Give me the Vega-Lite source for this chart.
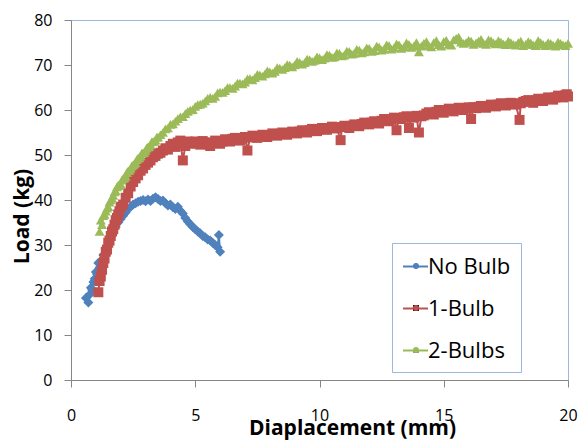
{
  "$schema": "https://vega.github.io/schema/vega-lite/v6.json",
  "width": 497,
  "height": 360,
  "autosize": {"type": "none"},
  "padding": {"left": 71, "top": 20, "right": 11, "bottom": 62},
  "background": "white",
  "config": {"view": {"stroke": "#9BB7DD", "strokeWidth": 1}, "font": "Open Sans"},
  "data": {"values": [
    {"s":"No Bulb","x":0.6,"y":18.2},{"s":"No Bulb","x":0.7,"y":17.2},{"s":"No Bulb","x":0.75,"y":19.0},{"s":"No Bulb","x":0.8,"y":20.5},{"s":"No Bulb","x":0.85,"y":20.0},{"s":"No Bulb","x":0.9,"y":21.8},{"s":"No Bulb","x":0.95,"y":22.5},{"s":"No Bulb","x":1.0,"y":24.0},{"s":"No Bulb","x":1.05,"y":23.5},{"s":"No Bulb","x":1.1,"y":26.0},{"s":"No Bulb","x":1.15,"y":25.0},{"s":"No Bulb","x":1.2,"y":26.5},{"s":"No Bulb","x":1.3,"y":27.8},{"s":"No Bulb","x":1.4,"y":29.0},{"s":"No Bulb","x":1.5,"y":30.5},{"s":"No Bulb","x":1.6,"y":31.8},{"s":"No Bulb","x":1.7,"y":33.0},{"s":"No Bulb","x":1.8,"y":34.0},{"s":"No Bulb","x":1.9,"y":35.0},{"s":"No Bulb","x":2.0,"y":35.8},{"s":"No Bulb","x":2.1,"y":36.5},{"s":"No Bulb","x":2.2,"y":37.2},{"s":"No Bulb","x":2.3,"y":38.0},{"s":"No Bulb","x":2.4,"y":38.5},{"s":"No Bulb","x":2.5,"y":39.0},{"s":"No Bulb","x":2.6,"y":39.3},{"s":"No Bulb","x":2.7,"y":39.6},{"s":"No Bulb","x":2.8,"y":39.8},{"s":"No Bulb","x":2.9,"y":40.0},{"s":"No Bulb","x":3.0,"y":39.7},{"s":"No Bulb","x":3.1,"y":40.1},{"s":"No Bulb","x":3.2,"y":39.8},{"s":"No Bulb","x":3.3,"y":40.3},{"s":"No Bulb","x":3.4,"y":40.6},{"s":"No Bulb","x":3.5,"y":40.2},{"s":"No Bulb","x":3.6,"y":39.8},{"s":"No Bulb","x":3.7,"y":39.9},{"s":"No Bulb","x":3.8,"y":39.3},{"s":"No Bulb","x":3.9,"y":38.8},{"s":"No Bulb","x":4.0,"y":39.0},{"s":"No Bulb","x":4.1,"y":38.4},{"s":"No Bulb","x":4.2,"y":38.0},{"s":"No Bulb","x":4.3,"y":38.5},{"s":"No Bulb","x":4.4,"y":37.6},{"s":"No Bulb","x":4.5,"y":37.0},{"s":"No Bulb","x":4.6,"y":36.0},{"s":"No Bulb","x":4.7,"y":35.2},{"s":"No Bulb","x":4.8,"y":34.6},{"s":"No Bulb","x":4.9,"y":34.0},{"s":"No Bulb","x":5.0,"y":33.5},{"s":"No Bulb","x":5.1,"y":33.0},{"s":"No Bulb","x":5.2,"y":32.6},{"s":"No Bulb","x":5.3,"y":32.0},{"s":"No Bulb","x":5.4,"y":31.7},{"s":"No Bulb","x":5.5,"y":31.2},{"s":"No Bulb","x":5.6,"y":31.0},{"s":"No Bulb","x":5.7,"y":30.5},{"s":"No Bulb","x":5.8,"y":30.0},{"s":"No Bulb","x":5.9,"y":29.5},{"s":"No Bulb","x":5.95,"y":32.2},{"s":"No Bulb","x":6.0,"y":28.5},
    {"s":"1-Bulb","x":1.1,"y":19.5},{"s":"1-Bulb","x":1.15,"y":22.0},{"s":"1-Bulb","x":1.2,"y":23.0},{"s":"1-Bulb","x":1.25,"y":24.5},{"s":"1-Bulb","x":1.3,"y":26.0},{"s":"1-Bulb","x":1.35,"y":27.0},{"s":"1-Bulb","x":1.4,"y":28.5},{"s":"1-Bulb","x":1.45,"y":29.0},{"s":"1-Bulb","x":1.5,"y":30.5},{"s":"1-Bulb","x":1.55,"y":31.0},{"s":"1-Bulb","x":1.6,"y":32.0},{"s":"1-Bulb","x":1.65,"y":33.0},{"s":"1-Bulb","x":1.7,"y":33.5},{"s":"1-Bulb","x":1.75,"y":34.5},{"s":"1-Bulb","x":1.8,"y":35.5},{"s":"1-Bulb","x":1.85,"y":36.0},{"s":"1-Bulb","x":1.9,"y":36.8},{"s":"1-Bulb","x":1.95,"y":37.5},{"s":"1-Bulb","x":2.0,"y":38.5},{"s":"1-Bulb","x":2.1,"y":39.0},{"s":"1-Bulb","x":2.2,"y":40.5},{"s":"1-Bulb","x":2.3,"y":41.5},{"s":"1-Bulb","x":2.4,"y":43.0},{"s":"1-Bulb","x":2.5,"y":44.0},{"s":"1-Bulb","x":2.6,"y":44.8},{"s":"1-Bulb","x":2.7,"y":45.5},{"s":"1-Bulb","x":2.8,"y":46.5},{"s":"1-Bulb","x":2.9,"y":47.0},{"s":"1-Bulb","x":3.0,"y":47.8},{"s":"1-Bulb","x":3.1,"y":48.3},{"s":"1-Bulb","x":3.2,"y":48.8},{"s":"1-Bulb","x":3.3,"y":49.5},{"s":"1-Bulb","x":3.4,"y":49.8},{"s":"1-Bulb","x":3.5,"y":50.3},{"s":"1-Bulb","x":3.6,"y":50.5},{"s":"1-Bulb","x":3.7,"y":51.0},{"s":"1-Bulb","x":3.8,"y":51.5},{"s":"1-Bulb","x":3.9,"y":51.2},{"s":"1-Bulb","x":4.0,"y":52.0},{"s":"1-Bulb","x":4.1,"y":52.5},{"s":"1-Bulb","x":4.2,"y":51.8},{"s":"1-Bulb","x":4.3,"y":52.8},{"s":"1-Bulb","x":4.4,"y":53.2},{"s":"1-Bulb","x":4.5,"y":48.8},{"s":"1-Bulb","x":4.6,"y":52.0},{"s":"1-Bulb","x":4.7,"y":53.0},{"s":"1-Bulb","x":4.8,"y":52.5},{"s":"1-Bulb","x":4.9,"y":52.9},{"s":"1-Bulb","x":5.0,"y":53.0},{"s":"1-Bulb","x":5.1,"y":52.6},{"s":"1-Bulb","x":5.2,"y":52.3},{"s":"1-Bulb","x":5.3,"y":53.1},{"s":"1-Bulb","x":5.4,"y":52.8},{"s":"1-Bulb","x":5.5,"y":52.4},{"s":"1-Bulb","x":5.6,"y":52.0},{"s":"1-Bulb","x":5.7,"y":52.7},{"s":"1-Bulb","x":5.8,"y":53.2},{"s":"1-Bulb","x":5.9,"y":52.9},{"s":"1-Bulb","x":6.0,"y":52.5},{"s":"1-Bulb","x":6.1,"y":53.0},{"s":"1-Bulb","x":6.2,"y":53.5},{"s":"1-Bulb","x":6.3,"y":53.1},{"s":"1-Bulb","x":6.4,"y":53.0},{"s":"1-Bulb","x":6.5,"y":53.6},{"s":"1-Bulb","x":6.6,"y":53.8},{"s":"1-Bulb","x":6.7,"y":53.4},{"s":"1-Bulb","x":6.8,"y":53.2},{"s":"1-Bulb","x":6.9,"y":53.7},{"s":"1-Bulb","x":7.0,"y":54.0},{"s":"1-Bulb","x":7.1,"y":51.0},{"s":"1-Bulb","x":7.2,"y":53.9},{"s":"1-Bulb","x":7.3,"y":54.3},{"s":"1-Bulb","x":7.4,"y":54.1},{"s":"1-Bulb","x":7.5,"y":53.8},{"s":"1-Bulb","x":7.6,"y":54.2},{"s":"1-Bulb","x":7.7,"y":54.5},{"s":"1-Bulb","x":7.8,"y":54.3},{"s":"1-Bulb","x":7.9,"y":54.0},{"s":"1-Bulb","x":8.0,"y":54.4},{"s":"1-Bulb","x":8.1,"y":54.8},{"s":"1-Bulb","x":8.2,"y":54.6},{"s":"1-Bulb","x":8.3,"y":54.3},{"s":"1-Bulb","x":8.4,"y":54.7},{"s":"1-Bulb","x":8.5,"y":55.0},{"s":"1-Bulb","x":8.6,"y":54.8},{"s":"1-Bulb","x":8.7,"y":54.5},{"s":"1-Bulb","x":8.8,"y":54.9},{"s":"1-Bulb","x":8.9,"y":55.2},{"s":"1-Bulb","x":9.0,"y":55.0},{"s":"1-Bulb","x":9.1,"y":54.8},{"s":"1-Bulb","x":9.2,"y":55.2},{"s":"1-Bulb","x":9.3,"y":55.5},{"s":"1-Bulb","x":9.4,"y":55.3},{"s":"1-Bulb","x":9.5,"y":55.0},{"s":"1-Bulb","x":9.6,"y":55.5},{"s":"1-Bulb","x":9.7,"y":55.8},{"s":"1-Bulb","x":9.8,"y":55.6},{"s":"1-Bulb","x":9.9,"y":55.3},{"s":"1-Bulb","x":10.0,"y":55.7},{"s":"1-Bulb","x":10.1,"y":56.0},{"s":"1-Bulb","x":10.2,"y":55.8},{"s":"1-Bulb","x":10.3,"y":55.6},{"s":"1-Bulb","x":10.4,"y":56.0},{"s":"1-Bulb","x":10.5,"y":56.3},{"s":"1-Bulb","x":10.6,"y":56.1},{"s":"1-Bulb","x":10.7,"y":55.9},{"s":"1-Bulb","x":10.85,"y":53.3},{"s":"1-Bulb","x":10.9,"y":56.2},{"s":"1-Bulb","x":11.0,"y":56.5},{"s":"1-Bulb","x":11.1,"y":56.3},{"s":"1-Bulb","x":11.2,"y":56.0},{"s":"1-Bulb","x":11.3,"y":56.5},{"s":"1-Bulb","x":11.4,"y":56.8},{"s":"1-Bulb","x":11.5,"y":56.6},{"s":"1-Bulb","x":11.6,"y":56.4},{"s":"1-Bulb","x":11.7,"y":56.9},{"s":"1-Bulb","x":11.8,"y":57.2},{"s":"1-Bulb","x":11.9,"y":57.0},{"s":"1-Bulb","x":12.0,"y":56.8},{"s":"1-Bulb","x":12.1,"y":57.2},{"s":"1-Bulb","x":12.2,"y":57.5},{"s":"1-Bulb","x":12.3,"y":57.3},{"s":"1-Bulb","x":12.4,"y":57.0},{"s":"1-Bulb","x":12.5,"y":57.6},{"s":"1-Bulb","x":12.6,"y":58.0},{"s":"1-Bulb","x":12.7,"y":57.8},{"s":"1-Bulb","x":12.8,"y":57.5},{"s":"1-Bulb","x":12.9,"y":57.9},{"s":"1-Bulb","x":13.0,"y":58.3},{"s":"1-Bulb","x":13.1,"y":55.5},{"s":"1-Bulb","x":13.2,"y":58.2},{"s":"1-Bulb","x":13.3,"y":58.0},{"s":"1-Bulb","x":13.4,"y":58.4},{"s":"1-Bulb","x":13.5,"y":58.6},{"s":"1-Bulb","x":13.6,"y":56.0},{"s":"1-Bulb","x":13.7,"y":58.5},{"s":"1-Bulb","x":13.8,"y":58.3},{"s":"1-Bulb","x":13.9,"y":58.7},{"s":"1-Bulb","x":14.0,"y":55.0},{"s":"1-Bulb","x":14.1,"y":58.6},{"s":"1-Bulb","x":14.2,"y":58.8},{"s":"1-Bulb","x":14.3,"y":59.2},{"s":"1-Bulb","x":14.4,"y":59.5},{"s":"1-Bulb","x":14.5,"y":59.3},{"s":"1-Bulb","x":14.6,"y":59.0},{"s":"1-Bulb","x":14.7,"y":59.6},{"s":"1-Bulb","x":14.8,"y":60.0},{"s":"1-Bulb","x":14.9,"y":59.7},{"s":"1-Bulb","x":15.0,"y":59.4},{"s":"1-Bulb","x":15.1,"y":59.9},{"s":"1-Bulb","x":15.2,"y":60.3},{"s":"1-Bulb","x":15.3,"y":60.0},{"s":"1-Bulb","x":15.4,"y":59.7},{"s":"1-Bulb","x":15.5,"y":60.2},{"s":"1-Bulb","x":15.6,"y":60.5},{"s":"1-Bulb","x":15.7,"y":60.3},{"s":"1-Bulb","x":15.8,"y":60.0},{"s":"1-Bulb","x":15.9,"y":60.4},{"s":"1-Bulb","x":16.0,"y":60.6},{"s":"1-Bulb","x":16.1,"y":58.0},{"s":"1-Bulb","x":16.2,"y":60.6},{"s":"1-Bulb","x":16.3,"y":60.4},{"s":"1-Bulb","x":16.4,"y":60.7},{"s":"1-Bulb","x":16.5,"y":60.9},{"s":"1-Bulb","x":16.6,"y":60.7},{"s":"1-Bulb","x":16.7,"y":60.5},{"s":"1-Bulb","x":16.8,"y":60.9},{"s":"1-Bulb","x":16.9,"y":61.2},{"s":"1-Bulb","x":17.0,"y":61.0},{"s":"1-Bulb","x":17.1,"y":60.8},{"s":"1-Bulb","x":17.2,"y":61.2},{"s":"1-Bulb","x":17.3,"y":61.5},{"s":"1-Bulb","x":17.4,"y":61.3},{"s":"1-Bulb","x":17.5,"y":61.0},{"s":"1-Bulb","x":17.6,"y":61.4},{"s":"1-Bulb","x":17.7,"y":61.6},{"s":"1-Bulb","x":17.8,"y":61.4},{"s":"1-Bulb","x":17.9,"y":61.2},{"s":"1-Bulb","x":18.05,"y":57.8},{"s":"1-Bulb","x":18.1,"y":61.5},{"s":"1-Bulb","x":18.2,"y":61.8},{"s":"1-Bulb","x":18.3,"y":62.0},{"s":"1-Bulb","x":18.4,"y":62.2},{"s":"1-Bulb","x":18.5,"y":61.9},{"s":"1-Bulb","x":18.6,"y":61.6},{"s":"1-Bulb","x":18.7,"y":62.1},{"s":"1-Bulb","x":18.8,"y":62.5},{"s":"1-Bulb","x":18.9,"y":62.2},{"s":"1-Bulb","x":19.0,"y":62.0},{"s":"1-Bulb","x":19.1,"y":62.5},{"s":"1-Bulb","x":19.2,"y":62.8},{"s":"1-Bulb","x":19.3,"y":62.6},{"s":"1-Bulb","x":19.4,"y":62.3},{"s":"1-Bulb","x":19.5,"y":62.8},{"s":"1-Bulb","x":19.6,"y":63.2},{"s":"1-Bulb","x":19.7,"y":63.0},{"s":"1-Bulb","x":19.8,"y":62.8},{"s":"1-Bulb","x":19.9,"y":63.3},{"s":"1-Bulb","x":19.95,"y":63.5},{"s":"1-Bulb","x":20.0,"y":63.0},
    {"s":"2-Bulbs","x":1.15,"y":33.0},{"s":"2-Bulbs","x":1.2,"y":35.5},{"s":"2-Bulbs","x":1.25,"y":34.5},{"s":"2-Bulbs","x":1.3,"y":36.5},{"s":"2-Bulbs","x":1.35,"y":36.8},{"s":"2-Bulbs","x":1.4,"y":37.5},{"s":"2-Bulbs","x":1.45,"y":38.2},{"s":"2-Bulbs","x":1.5,"y":38.5},{"s":"2-Bulbs","x":1.55,"y":39.5},{"s":"2-Bulbs","x":1.6,"y":40.0},{"s":"2-Bulbs","x":1.65,"y":40.4},{"s":"2-Bulbs","x":1.7,"y":41.0},{"s":"2-Bulbs","x":1.75,"y":41.8},{"s":"2-Bulbs","x":1.8,"y":42.0},{"s":"2-Bulbs","x":1.85,"y":42.9},{"s":"2-Bulbs","x":1.9,"y":43.3},{"s":"2-Bulbs","x":1.95,"y":43.2},{"s":"2-Bulbs","x":2.0,"y":43.5},{"s":"2-Bulbs","x":2.05,"y":44.4},{"s":"2-Bulbs","x":2.1,"y":44.8},{"s":"2-Bulbs","x":2.15,"y":44.9},{"s":"2-Bulbs","x":2.2,"y":45.3},{"s":"2-Bulbs","x":2.25,"y":46.1},{"s":"2-Bulbs","x":2.3,"y":46.5},{"s":"2-Bulbs","x":2.35,"y":46.6},{"s":"2-Bulbs","x":2.4,"y":47.0},{"s":"2-Bulbs","x":2.45,"y":47.6},{"s":"2-Bulbs","x":2.5,"y":47.8},{"s":"2-Bulbs","x":2.55,"y":48.0},{"s":"2-Bulbs","x":2.6,"y":48.3},{"s":"2-Bulbs","x":2.65,"y":49.0},{"s":"2-Bulbs","x":2.7,"y":49.3},{"s":"2-Bulbs","x":2.75,"y":49.4},{"s":"2-Bulbs","x":2.8,"y":49.8},{"s":"2-Bulbs","x":2.85,"y":50.4},{"s":"2-Bulbs","x":2.9,"y":50.5},{"s":"2-Bulbs","x":2.95,"y":50.6},{"s":"2-Bulbs","x":3.0,"y":51.0},{"s":"2-Bulbs","x":3.05,"y":51.6},{"s":"2-Bulbs","x":3.1,"y":51.8},{"s":"2-Bulbs","x":3.15,"y":51.9},{"s":"2-Bulbs","x":3.2,"y":52.3},{"s":"2-Bulbs","x":3.25,"y":52.9},{"s":"2-Bulbs","x":3.3,"y":53.0},{"s":"2-Bulbs","x":3.35,"y":53.0},{"s":"2-Bulbs","x":3.4,"y":53.3},{"s":"2-Bulbs","x":3.45,"y":53.9},{"s":"2-Bulbs","x":3.5,"y":54.0},{"s":"2-Bulbs","x":3.6,"y":54.5},{"s":"2-Bulbs","x":3.7,"y":55.0},{"s":"2-Bulbs","x":3.8,"y":55.8},{"s":"2-Bulbs","x":3.9,"y":56.0},{"s":"2-Bulbs","x":4.0,"y":56.8},{"s":"2-Bulbs","x":4.1,"y":56.9},{"s":"2-Bulbs","x":4.2,"y":57.5},{"s":"2-Bulbs","x":4.3,"y":58.1},{"s":"2-Bulbs","x":4.4,"y":58.5},{"s":"2-Bulbs","x":4.5,"y":58.5},{"s":"2-Bulbs","x":4.6,"y":59.2},{"s":"2-Bulbs","x":4.7,"y":59.7},{"s":"2-Bulbs","x":4.8,"y":60.0},{"s":"2-Bulbs","x":4.9,"y":60.1},{"s":"2-Bulbs","x":5.0,"y":60.8},{"s":"2-Bulbs","x":5.1,"y":61.2},{"s":"2-Bulbs","x":5.2,"y":61.3},{"s":"2-Bulbs","x":5.3,"y":61.5},{"s":"2-Bulbs","x":5.4,"y":62.0},{"s":"2-Bulbs","x":5.5,"y":62.6},{"s":"2-Bulbs","x":5.6,"y":62.8},{"s":"2-Bulbs","x":5.7,"y":62.6},{"s":"2-Bulbs","x":5.8,"y":63.0},{"s":"2-Bulbs","x":5.9,"y":63.8},{"s":"2-Bulbs","x":6.0,"y":64.0},{"s":"2-Bulbs","x":6.1,"y":63.9},{"s":"2-Bulbs","x":6.2,"y":64.3},{"s":"2-Bulbs","x":6.3,"y":65.0},{"s":"2-Bulbs","x":6.4,"y":65.0},{"s":"2-Bulbs","x":6.5,"y":64.8},{"s":"2-Bulbs","x":6.6,"y":65.3},{"s":"2-Bulbs","x":6.7,"y":66.0},{"s":"2-Bulbs","x":6.8,"y":66.0},{"s":"2-Bulbs","x":6.9,"y":65.8},{"s":"2-Bulbs","x":7.0,"y":66.2},{"s":"2-Bulbs","x":7.1,"y":66.9},{"s":"2-Bulbs","x":7.2,"y":67.0},{"s":"2-Bulbs","x":7.3,"y":66.7},{"s":"2-Bulbs","x":7.4,"y":67.2},{"s":"2-Bulbs","x":7.5,"y":67.9},{"s":"2-Bulbs","x":7.6,"y":67.8},{"s":"2-Bulbs","x":7.7,"y":67.5},{"s":"2-Bulbs","x":7.8,"y":68.0},{"s":"2-Bulbs","x":7.9,"y":68.7},{"s":"2-Bulbs","x":8.0,"y":68.5},{"s":"2-Bulbs","x":8.1,"y":68.2},{"s":"2-Bulbs","x":8.2,"y":68.6},{"s":"2-Bulbs","x":8.3,"y":69.4},{"s":"2-Bulbs","x":8.4,"y":69.3},{"s":"2-Bulbs","x":8.5,"y":69.0},{"s":"2-Bulbs","x":8.6,"y":69.4},{"s":"2-Bulbs","x":8.7,"y":70.1},{"s":"2-Bulbs","x":8.8,"y":70.0},{"s":"2-Bulbs","x":8.9,"y":69.6},{"s":"2-Bulbs","x":9.0,"y":70.0},{"s":"2-Bulbs","x":9.1,"y":70.8},{"s":"2-Bulbs","x":9.2,"y":70.6},{"s":"2-Bulbs","x":9.3,"y":70.2},{"s":"2-Bulbs","x":9.4,"y":70.5},{"s":"2-Bulbs","x":9.5,"y":71.3},{"s":"2-Bulbs","x":9.6,"y":71.2},{"s":"2-Bulbs","x":9.7,"y":70.8},{"s":"2-Bulbs","x":9.8,"y":71.0},{"s":"2-Bulbs","x":9.9,"y":71.8},{"s":"2-Bulbs","x":10.0,"y":71.6},{"s":"2-Bulbs","x":10.1,"y":71.2},{"s":"2-Bulbs","x":10.2,"y":71.5},{"s":"2-Bulbs","x":10.3,"y":72.3},{"s":"2-Bulbs","x":10.4,"y":72.2},{"s":"2-Bulbs","x":10.5,"y":71.7},{"s":"2-Bulbs","x":10.6,"y":71.8},{"s":"2-Bulbs","x":10.7,"y":72.7},{"s":"2-Bulbs","x":10.8,"y":72.6},{"s":"2-Bulbs","x":10.9,"y":72.0},{"s":"2-Bulbs","x":11.0,"y":72.2},{"s":"2-Bulbs","x":11.1,"y":73.1},{"s":"2-Bulbs","x":11.2,"y":73.0},{"s":"2-Bulbs","x":11.3,"y":72.4},{"s":"2-Bulbs","x":11.4,"y":72.6},{"s":"2-Bulbs","x":11.5,"y":73.5},{"s":"2-Bulbs","x":11.6,"y":73.3},{"s":"2-Bulbs","x":11.7,"y":72.7},{"s":"2-Bulbs","x":11.8,"y":72.9},{"s":"2-Bulbs","x":11.9,"y":73.8},{"s":"2-Bulbs","x":12.0,"y":73.7},{"s":"2-Bulbs","x":12.1,"y":73.0},{"s":"2-Bulbs","x":12.2,"y":73.2},{"s":"2-Bulbs","x":12.3,"y":74.2},{"s":"2-Bulbs","x":12.4,"y":74.0},{"s":"2-Bulbs","x":12.5,"y":73.3},{"s":"2-Bulbs","x":12.6,"y":73.5},{"s":"2-Bulbs","x":12.7,"y":74.5},{"s":"2-Bulbs","x":12.8,"y":74.3},{"s":"2-Bulbs","x":12.9,"y":73.5},{"s":"2-Bulbs","x":13.0,"y":73.8},{"s":"2-Bulbs","x":13.1,"y":74.7},{"s":"2-Bulbs","x":13.2,"y":74.5},{"s":"2-Bulbs","x":13.3,"y":73.7},{"s":"2-Bulbs","x":13.4,"y":74.0},{"s":"2-Bulbs","x":13.5,"y":74.9},{"s":"2-Bulbs","x":13.6,"y":74.6},{"s":"2-Bulbs","x":13.7,"y":73.9},{"s":"2-Bulbs","x":13.8,"y":74.2},{"s":"2-Bulbs","x":13.9,"y":75.0},{"s":"2-Bulbs","x":14.0,"y":72.9},{"s":"2-Bulbs","x":14.1,"y":74.2},{"s":"2-Bulbs","x":14.2,"y":74.8},{"s":"2-Bulbs","x":14.3,"y":75.2},{"s":"2-Bulbs","x":14.4,"y":74.3},{"s":"2-Bulbs","x":14.5,"y":74.0},{"s":"2-Bulbs","x":14.6,"y":75.0},{"s":"2-Bulbs","x":14.7,"y":75.4},{"s":"2-Bulbs","x":14.8,"y":74.5},{"s":"2-Bulbs","x":14.9,"y":74.2},{"s":"2-Bulbs","x":15.0,"y":75.2},{"s":"2-Bulbs","x":15.1,"y":75.5},{"s":"2-Bulbs","x":15.2,"y":74.6},{"s":"2-Bulbs","x":15.3,"y":74.4},{"s":"2-Bulbs","x":15.4,"y":75.6},{"s":"2-Bulbs","x":15.5,"y":75.9},{"s":"2-Bulbs","x":15.6,"y":76.2},{"s":"2-Bulbs","x":15.7,"y":75.1},{"s":"2-Bulbs","x":15.8,"y":74.8},{"s":"2-Bulbs","x":15.9,"y":75.0},{"s":"2-Bulbs","x":16.0,"y":75.5},{"s":"2-Bulbs","x":16.1,"y":75.3},{"s":"2-Bulbs","x":16.2,"y":74.6},{"s":"2-Bulbs","x":16.3,"y":74.9},{"s":"2-Bulbs","x":16.4,"y":75.3},{"s":"2-Bulbs","x":16.5,"y":75.7},{"s":"2-Bulbs","x":16.6,"y":74.8},{"s":"2-Bulbs","x":16.7,"y":74.6},{"s":"2-Bulbs","x":16.8,"y":75.6},{"s":"2-Bulbs","x":16.9,"y":75.4},{"s":"2-Bulbs","x":17.0,"y":74.9},{"s":"2-Bulbs","x":17.1,"y":74.7},{"s":"2-Bulbs","x":17.2,"y":75.4},{"s":"2-Bulbs","x":17.3,"y":75.1},{"s":"2-Bulbs","x":17.4,"y":74.7},{"s":"2-Bulbs","x":17.5,"y":74.5},{"s":"2-Bulbs","x":17.6,"y":75.3},{"s":"2-Bulbs","x":17.7,"y":75.0},{"s":"2-Bulbs","x":17.8,"y":74.6},{"s":"2-Bulbs","x":17.9,"y":74.4},{"s":"2-Bulbs","x":18.0,"y":75.0},{"s":"2-Bulbs","x":18.1,"y":75.3},{"s":"2-Bulbs","x":18.2,"y":74.3},{"s":"2-Bulbs","x":18.3,"y":74.6},{"s":"2-Bulbs","x":18.4,"y":75.2},{"s":"2-Bulbs","x":18.5,"y":74.9},{"s":"2-Bulbs","x":18.6,"y":74.5},{"s":"2-Bulbs","x":18.7,"y":74.3},{"s":"2-Bulbs","x":18.8,"y":75.4},{"s":"2-Bulbs","x":18.9,"y":75.0},{"s":"2-Bulbs","x":19.0,"y":74.6},{"s":"2-Bulbs","x":19.1,"y":74.3},{"s":"2-Bulbs","x":19.2,"y":75.0},{"s":"2-Bulbs","x":19.3,"y":74.8},{"s":"2-Bulbs","x":19.4,"y":74.4},{"s":"2-Bulbs","x":19.5,"y":74.2},{"s":"2-Bulbs","x":19.6,"y":75.1},{"s":"2-Bulbs","x":19.7,"y":74.8},{"s":"2-Bulbs","x":19.8,"y":74.5},{"s":"2-Bulbs","x":19.9,"y":74.3},{"s":"2-Bulbs","x":20.0,"y":74.8}
  ]},
  "encoding": {
    "x": {"field": "x", "type": "quantitative", "scale": {"domain": [0, 20], "nice": false, "zero": false},
      "axis": {"values": [0, 5, 10, 15, 20], "grid": false, "domainColor": "#868686", "tickColor": "#868686", "tickSize": 7,
        "labelFontSize": 16, "labelColor": "#000000", "labelFont": "Open Sans", "labelBaseline": "middle", "labelPadding": 28, "labelFlush": false,
        "title": "Diaplacement (mm)", "titleFont": "Open Sans", "titleFontSize": 21, "titleFontWeight": "bold", "titleColor": "#000000",
        "titleX": 281, "titleY": 48, "titleBaseline": "middle", "titleAlign": "center"}},
    "y": {"field": "y", "type": "quantitative", "scale": {"domain": [0, 80], "nice": false},
      "axis": {"values": [0, 10, 20, 30, 40, 50, 60, 70, 80], "grid": false, "domainColor": "#868686", "tickColor": "#868686", "tickSize": 7,
        "labelFontSize": 16, "labelColor": "#000000", "labelFont": "Open Sans", "labelPadding": 12,
        "title": "Load (kg)", "titleFont": "Open Sans", "titleFontSize": 21, "titleFontWeight": "bold", "titleColor": "#000000",
        "titleX": -49, "titleY": 196, "titleBaseline": "middle", "titleAlign": "center", "titleAngle": -90}}
  },
  "layer": [
    {"mark": {"type": "line", "strokeWidth": 2},
     "encoding": {
       "stroke": {"field": "s", "type": "nominal",
         "scale": {"domain": ["No Bulb", "1-Bulb", "2-Bulbs"], "range": ["#4F81BD", "#C0504D", "#9BBB59"]},
         "legend": {"orient": "none", "legendX": 321, "legendY": 223, "title": null, "symbolType": "stroke", "symbolSize": 625,
           "symbolStrokeWidth": 2, "labelFontSize": 22, "labelFont": "Open Sans", "labelColor": "#000000", "labelOffset": -1,
           "strokeColor": "#9BB7DD", "fillColor": "white", "padding": 10, "rowPadding": 17, "labelLimit": 300}}
     }},
    {"mark": {"type": "point", "filled": true, "opacity": 1, "size": 100},
     "encoding": {
       "fill": {"field": "s", "type": "nominal", "sort": ["No Bulb", "1-Bulb", "2-Bulbs"],
         "scale": {"range": ["#4F81BD", "#C0504D", "#9BBB59"]},
         "legend": {"orient": "none", "legendX": 324, "legendY": 225, "title": null, "symbolSize": 35, "symbolStrokeWidth": 0,
           "labelExpr": "''", "labelFontSize": 22, "padding": 10, "rowPadding": 20}},
       "shape": {"field": "s", "type": "nominal", "sort": ["No Bulb", "1-Bulb", "2-Bulbs"],
         "scale": {"range": ["diamond", "square", "triangle-up"]},
         "legend": {"orient": "none", "legendX": 324, "legendY": 225, "title": null, "symbolSize": 35, "symbolStrokeWidth": 0,
           "labelExpr": "''", "labelFontSize": 22, "padding": 10, "rowPadding": 20}}
     }}
  ]
}
